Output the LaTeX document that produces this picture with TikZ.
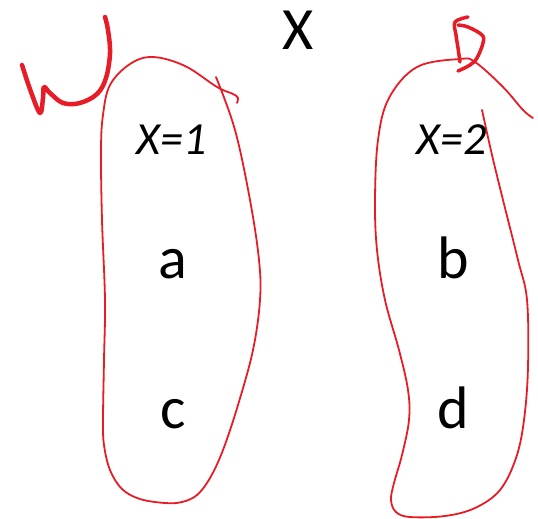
\documentclass[tikz,border=0pt]{standalone}
\usepackage{fontspec}
\setmainfont{Carlito}
\definecolor{pen}{RGB}{232,28,38}
\begin{document}
\begin{tikzpicture}[x=1pt,y=-1pt,
  outline/.style={draw=pen,line width=1.8pt,line cap=round,line join=round},
  scribble/.style={draw=pen,line width=4.5pt,line cap=round,line join=round},
  lbl/.style={anchor=base,inner sep=0pt,font=\fontsize{60}{60}\selectfont},
  cond/.style={anchor=base,inner sep=0pt,font=\fontsize{46}{46}\selectfont\itshape}]
\useasboundingbox (0,0) rectangle (538,519);
% left blob
\draw[outline] plot[smooth,tension=0.6] coordinates {
  (216,77) (235,130) (250,200) (259,260) (260,300) (253,350) (238,405) (223,450)
  (210,478) (197,495) (182,502) (165,503) (140,499) (122,489) (110,470) (104,445)
  (103,420) (104,360) (105,300) (102,220) (101,150)
  (103,115) (110,85) (130,64) (153,57) (185,66) (217,87) (233,94) (238,98) (237,103)};
% right blob
\draw[outline] plot[smooth,tension=0.6] coordinates {
  (482,110) (492,155) (503,200) (518,260) (527,300) (528,367) (524,420) (516,458)
  (500,490) (475,508) (445,516) (410,517) (396,512) (391,500) (394,483) (402,455)
  (409,420) (408,390) (399,350) (385,300) (377,250)
  (375,200) (378,140) (389,98) (417,67) (460,59) (475,62) (503,87) (523,110) (533,118)};
% W scribble
\draw[scribble] plot[smooth,tension=0.6] coordinates {
  (22,65) (31,92) (40,113) (43,98) (44,87) (50,93) (63,103) (80,103) (97,94)
  (106,78) (110,53) (108,30) (105,17)};
% B scribble
\draw[scribble,line width=3.5pt] plot[smooth,tension=0.6] coordinates {
  (468,17) (455,22) (456,35) (458,48) (460,62)};
\draw[scribble,line width=3.5pt] plot[smooth,tension=0.6] coordinates {
  (458,25) (468,27) (482,35) (483,43) (477,58) (470,65) (458,71)};
% texts
\node[lbl] (X) at (298,50) {X};
\node[cond] (c1) at (172,154) {X=1};
\node[cond] (c2) at (452,154) {X=2};
\node[lbl] (a) at (173,278) {a};
\node[lbl] (c) at (173,428) {c};
\node[lbl] (b) at (453,278) {b};
\node[lbl] (d) at (453,428) {d};
\end{tikzpicture}
\end{document}
